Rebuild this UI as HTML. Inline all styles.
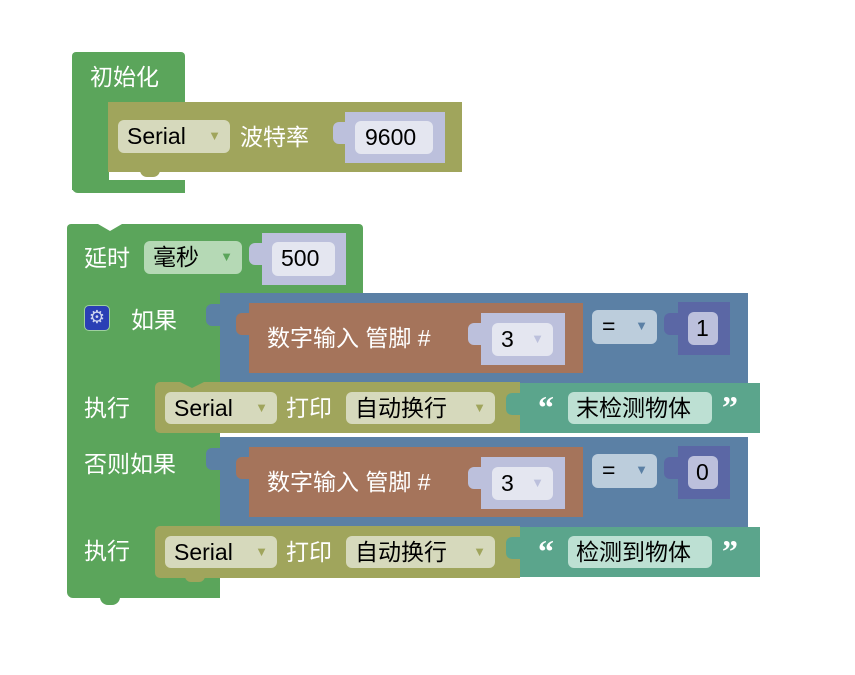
<!DOCTYPE html>
<html><head><meta charset="utf-8"><style>
body{margin:0;width:855px;height:675px;background:#fff;position:relative;overflow:hidden;font-family:"Liberation Sans","Noto Sans CJK SC",sans-serif;}
div{position:absolute;box-sizing:border-box;}
.g{background:#5ba55b;}
.o{background:#a0a55c;}
.b{background:#5b80a5;}
.r{background:#a5745b;}
.t{background:#5ba58c;}
.l{background:#bcc0dc;}
.d{background:#5b67a5;}
.w{color:#fff;font-size:23px;line-height:30px;white-space:nowrap;}
.f{border-radius:6px;font-size:23px;line-height:32px;color:#000;white-space:nowrap;padding-left:9px;}
.f i{font-style:normal;font-size:13px;position:absolute;right:9px;top:0;}
.tab{border-radius:6px 0 0 6px;width:14px;height:22px;}
.q{color:#fff;font-size:32px;font-weight:bold;line-height:30px;font-family:"Liberation Serif",serif;}
</style></head><body>

<!-- init block -->
<div class="g" style="left:72px;top:52px;width:113px;height:51px;border-radius:4px 4px 0 0;"></div>
<div class="g" style="left:72px;top:100px;width:37px;height:90px;"></div>
<div class="g" style="left:72px;top:180px;width:113px;height:13px;border-radius:0 0 0 6px;"></div>
<div class="w" style="left:90px;top:62px;">初始化</div>
<div class="o" style="left:108px;top:102px;width:354px;height:70px;"></div>
<div class="o" style="left:140px;top:170px;width:20px;height:7px;border-radius:0 0 8px 8px;"></div>
<div class="f" style="left:118px;top:120px;width:112px;height:33px;background:#d6d9bc;">Serial<i style="color:#a0a55c">▼</i></div>
<div class="w" style="left:240px;top:122px;">波特率</div>
<div class="l tab" style="left:333px;top:122px;"></div>
<div class="l" style="left:345px;top:112px;width:100px;height:51px;"></div>
<div class="f" style="left:355px;top:121px;width:78px;height:33px;background:#e4e6f0;padding-left:10px;">9600</div>

<!-- delay block -->
<div class="g" style="left:67px;top:224px;width:296px;height:70px;border-radius:4px 4px 0 0;"></div>
<div style="left:98px;top:224px;width:0;height:0;border-left:12px solid transparent;border-right:12px solid transparent;border-top:7px solid #fff;"></div>
<div class="w" style="left:84px;top:243px;">延时</div>
<div class="f" style="left:144px;top:241px;width:98px;height:33px;background:#b5d9b5;">毫秒<i style="color:#5ba55b">▼</i></div>
<div class="l tab" style="left:249px;top:243px;"></div>
<div class="l" style="left:262px;top:233px;width:84px;height:52px;"></div>
<div class="f" style="left:272px;top:242px;width:63px;height:34px;background:#e4e6f0;">500</div>

<!-- if block -->
<div class="g" style="left:67px;top:293px;width:153px;height:305px;border-radius:0 0 0 6px;"></div>
<div class="g" style="left:100px;top:596px;width:20px;height:9px;border-radius:0 0 8px 8px;"></div>
<div style="left:84px;top:305px;width:26px;height:26px;background:#2a3fb5;border-radius:5px;border:1px solid #9fd09f;color:#cfd6f0;font-size:18px;line-height:23px;text-align:center;">⚙</div>
<div class="w" style="left:131px;top:305px;">如果</div>
<div class="w" style="left:84px;top:393px;">执行</div>
<div class="w" style="left:84px;top:449px;">否则如果</div>
<div class="w" style="left:84px;top:536px;">执行</div>

<!-- condition 1 -->
<div class="b tab" style="left:206px;top:304px;"></div>
<div class="b" style="left:220px;top:293px;width:528px;height:90px;"></div>
<div class="r tab" style="left:236px;top:313px;"></div>
<div class="r" style="left:249px;top:303px;width:334px;height:70px;"></div>
<div class="w" style="left:267px;top:323px;">数字输入 管脚 #</div>
<div class="l tab" style="left:468px;top:323px;"></div>
<div class="l" style="left:481px;top:313px;width:84px;height:52px;"></div>
<div class="f" style="left:492px;top:323px;width:61px;height:33px;background:#e4e6f0;">3<i style="color:#bcc0dc">▼</i></div>
<div class="f" style="left:592px;top:310px;width:65px;height:34px;background:#bccddc;padding-left:10px;">=<i style="color:#5b80a5">▼</i></div>
<div class="d tab" style="left:664px;top:313px;"></div>
<div class="d" style="left:678px;top:302px;width:52px;height:53px;"></div>
<div class="f" style="left:688px;top:312px;width:30px;height:33px;background:#bcc0dc;padding-left:8px;">1</div>

<!-- print 1 -->
<div class="o" style="left:155px;top:382px;width:365px;height:51px;border-radius:5px 0 0 5px;"></div>
<div style="left:180px;top:382px;width:0;height:0;border-left:12px solid transparent;border-right:12px solid transparent;border-top:6px solid #5ba55b;"></div>
<div class="f" style="left:165px;top:392px;width:112px;height:32px;background:#d6d9bc;">Serial<i style="color:#a0a55c">▼</i></div>
<div class="w" style="left:286px;top:393px;">打印</div>
<div class="f" style="left:346px;top:392px;width:149px;height:32px;background:#d6d9bc;">自动换行<i style="color:#a0a55c">▼</i></div>
<div class="t tab" style="left:506px;top:393px;"></div>
<div class="t" style="left:520px;top:383px;width:240px;height:50px;"></div>
<div class="q" style="left:538px;top:392px;">“</div>
<div class="f" style="left:568px;top:392px;width:144px;height:32px;background:#bde0d3;padding-left:8px;">末检测物体</div>
<div class="q" style="left:722px;top:392px;">”</div>

<!-- condition 2 -->
<div class="b tab" style="left:206px;top:448px;"></div>
<div class="b" style="left:220px;top:437px;width:528px;height:90px;"></div>
<div class="r tab" style="left:236px;top:457px;"></div>
<div class="r" style="left:249px;top:447px;width:334px;height:70px;"></div>
<div class="w" style="left:267px;top:467px;">数字输入 管脚 #</div>
<div class="l tab" style="left:468px;top:467px;"></div>
<div class="l" style="left:481px;top:457px;width:84px;height:52px;"></div>
<div class="f" style="left:492px;top:467px;width:61px;height:33px;background:#e4e6f0;">3<i style="color:#bcc0dc">▼</i></div>
<div class="f" style="left:592px;top:454px;width:65px;height:34px;background:#bccddc;padding-left:10px;">=<i style="color:#5b80a5">▼</i></div>
<div class="d tab" style="left:664px;top:457px;"></div>
<div class="d" style="left:678px;top:446px;width:52px;height:53px;"></div>
<div class="f" style="left:688px;top:456px;width:30px;height:33px;background:#bcc0dc;padding-left:8px;">0</div>

<!-- print 2 -->
<div class="o" style="left:155px;top:526px;width:365px;height:52px;border-radius:5px 0 0 5px;"></div>
<div class="o" style="left:185px;top:576px;width:20px;height:6px;border-radius:0 0 8px 8px;"></div>
<div class="f" style="left:165px;top:536px;width:112px;height:32px;background:#d6d9bc;">Serial<i style="color:#a0a55c">▼</i></div>
<div class="w" style="left:286px;top:537px;">打印</div>
<div class="f" style="left:346px;top:536px;width:149px;height:32px;background:#d6d9bc;">自动换行<i style="color:#a0a55c">▼</i></div>
<div class="t tab" style="left:506px;top:537px;"></div>
<div class="t" style="left:520px;top:527px;width:240px;height:50px;"></div>
<div class="q" style="left:538px;top:536px;">“</div>
<div class="f" style="left:568px;top:536px;width:144px;height:32px;background:#bde0d3;padding-left:8px;">检测到物体</div>
<div class="q" style="left:722px;top:536px;">”</div>

</body></html>
